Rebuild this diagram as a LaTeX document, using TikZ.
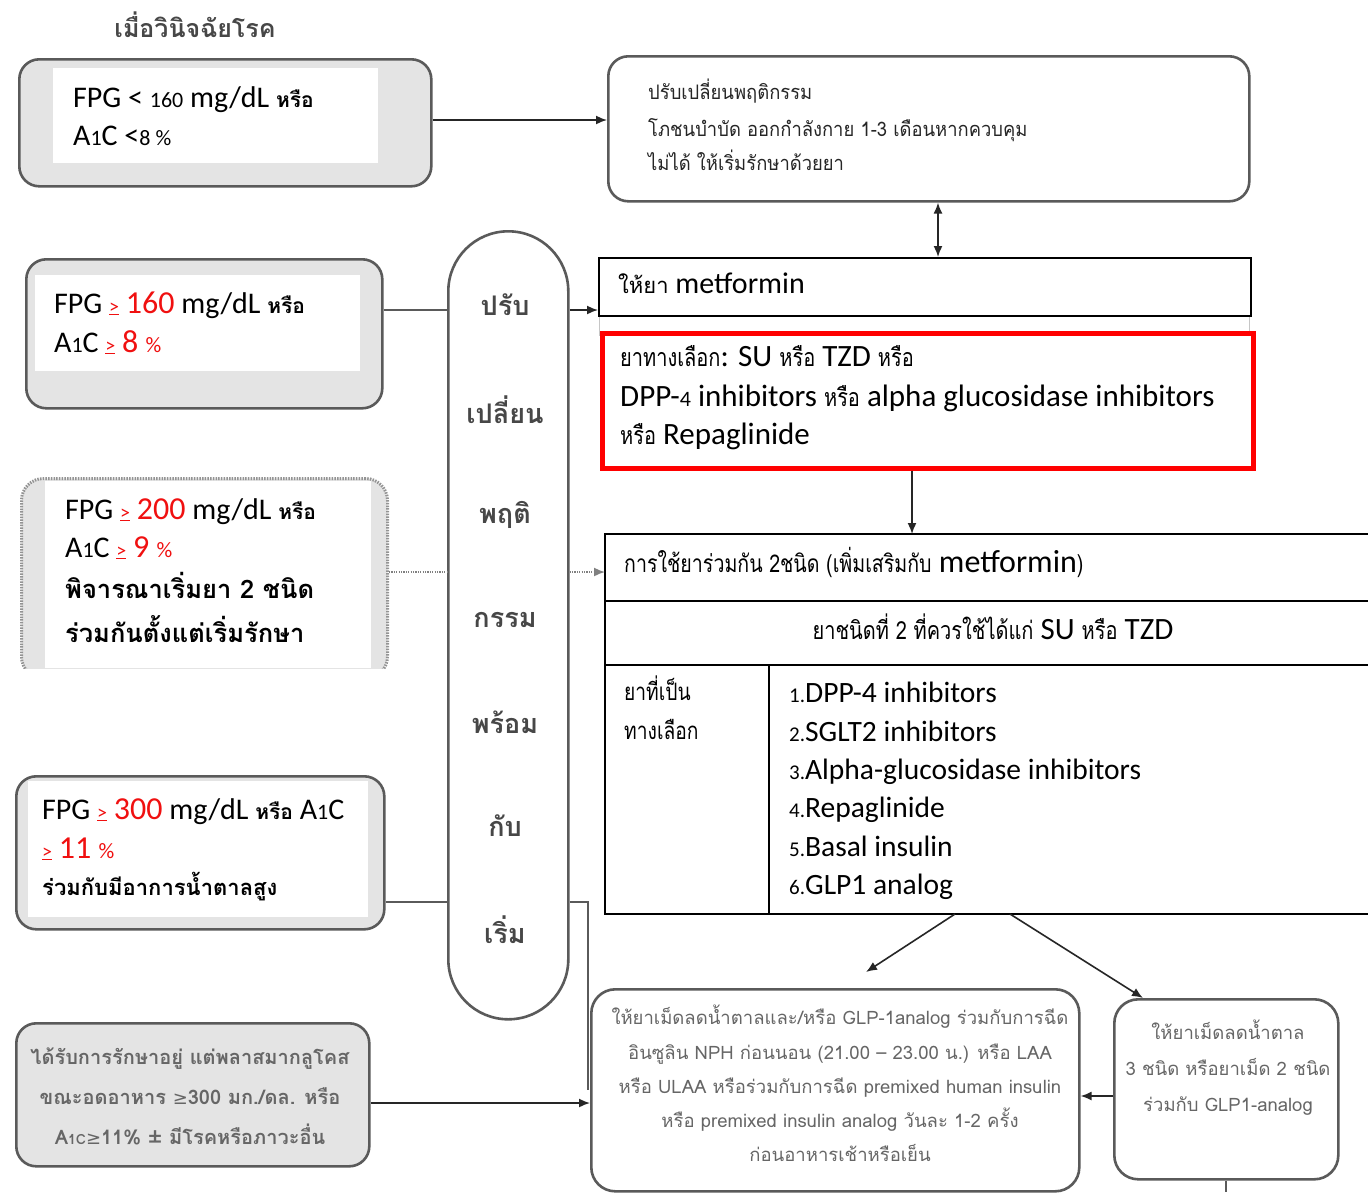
\documentclass[tikz,border=0pt]{standalone}
\usepackage{fontspec}
\setmainfont{Carlito}
\newfontfamily\thai[Script=Thai]{Loma}
\newfontfamily\thaic[Script=Thai,FakeStretch=0.8]{Loma}
\newfontfamily\thain[Script=Thai,FakeStretch=0.92]{Loma}
\newfontfamily\dejavu{DejaVu Sans}
\usetikzlibrary{arrows.meta}
\definecolor{boxline}{HTML}{5A5A5A}
\definecolor{boxfill}{HTML}{E4E4E4}
\definecolor{myred}{HTML}{F01010}
\definecolor{dimtext}{HTML}{666666}
\newcommand\fs[1]{\fontsize{#1}{#1}\selectfont}
\newcommand\geu{\textcolor{myred}{\underline{\fs{20}>}}}
\newcommand\thr{{\thai\bfseries\fs{21}หรือ}}
\begin{document}
\begin{tikzpicture}[x=1pt,y=-1pt,
  lbl/.style={inner sep=0pt, anchor=base west},
  gbox/.style={draw=boxline, line width=2.6pt, rounded corners=20pt, fill=boxfill, anchor=north west, inner sep=0pt},
  wbox/.style={draw=boxline, line width=2.6pt, rounded corners=20pt, fill=white, anchor=north west, inner sep=0pt},
  wrect/.style={fill=white, draw=none, anchor=north west, inner sep=0pt},
  arr/.style={-{Latex[length=11pt,width=9pt]}, line width=1.6pt, draw=black!85},
  conn/.style={line width=2.2pt, draw=boxline},
  dotconn/.style={line width=1.6pt, draw=gray, dash pattern=on 1.2pt off 1.2pt},
  tline/.style={line width=2pt, draw=black},
  capw/.style={font=\thai\bfseries\fs{27}, text=black!72, inner sep=0pt},
  bmtext/.style={inner sep=0pt, anchor=base, font=\thai\fs{18.5}, text=dimtext},
  b5text/.style={inner sep=0pt, anchor=base, font=\thai\bfseries\fs{20}, text=dimtext},
]
\useasboundingbox[fill=white] (0,0) rectangle (1368,1192);

% title
\node[font=\thai\bfseries\fs{25}, text=black!72, inner sep=0pt] (title) at (195,25) {เมื่อวินิจฉัยโรค};

% box 1
\node[gbox, minimum width=412pt, minimum height=127pt] (b1) at (18,58) {};
\node[wrect, minimum width=325pt, minimum height=95pt] (b1w) at (53,68) {};
\node[lbl, font=\fs{30}] (b1t1) at (73,107) {FPG < {\fs{22}160} mg/dL \thr};
\node[lbl, font=\fs{30}] (b1t2) at (73,145) {A{\fs{22}1}C <{\fs{22}8 \%}};

% top right box
\node[wbox, minimum width=641pt, minimum height=145pt] (top) at (607,55) {};
\node[lbl, font=\thain\fs{20}, text=black!85] (topt1) at (648,99) {ปรับเปลี่ยนพฤติกรรม};
\node[lbl, font=\thain\fs{20}, text=black!85] (topt2) at (648,136) {โภชนบำบัด ออกกำลังกาย 1-3 เดือนหากควบคุม};
\node[lbl, font=\thain\fs{20}, text=black!85] (topt3) at (648,170) {ไม่ได้ ให้เริ่มรักษาด้วยยา};

% faint frame behind metformin / red box
\node[draw=gray!45, line width=1.2pt, anchor=north west, inner sep=0pt, minimum width=650pt, minimum height=40pt] (shade) at (599,295) {};

% metformin box
\node[draw=black, line width=2pt, fill=white, anchor=north west, inner sep=0pt, minimum width=652pt, minimum height=58pt] (met) at (598,257) {};
\node[lbl, font=\fs{30}] (mett) at (618,293) {{\thai\fs{22}ให้ยา} metformin};

% red box
\node[draw=red, line width=4.5pt, fill=white, anchor=north west, inner sep=0pt, minimum width=651pt, minimum height=135pt] (red) at (600,331) {};
\node[lbl, font=\fs{31}] (redt1) at (620,366) {{\thaic\fs{25}ยาทางเลือก}: SU {\thaic\fs{25}หรือ} TZD {\thaic\fs{25}หรือ}};
\node[lbl, font=\fs{31}] (redt2) at (620,406) {DPP-{\fs{22}4} inhibitors {\thaic\fs{25}หรือ} alpha glucosidase inhibitors};
\node[lbl, font=\fs{31}] (redt3) at (620,444) {{\thaic\fs{25}หรือ} Repaglinide};

% table
\node[anchor=north west, inner sep=0pt, minimum width=763pt, minimum height=380pt] (tbl) at (605,534) {};
\draw[tline] (tbl.north east) -- (tbl.north west) -- (tbl.south west) -- (tbl.south east);
\coordinate (r1) at (605,601);
\coordinate (r2) at (605,665);
\coordinate (cv) at (769,665);
\draw[tline] (r1) -- (r1 -| tbl.east);
\draw[tline] (r2) -- (r2 -| tbl.east);
\draw[tline] (cv) -- (cv |- tbl.south);
\node[lbl, font=\fs{32}] (tr1) at (624,572) {{\thaic\fs{24.5}การใช้ยาร่วมกัน 2ชนิด (เพิ่มเสริมกับ} metformin{\thaic\fs{24.5})}};
\node[inner sep=0pt, anchor=base, font=\fs{31}] (tr2) at (993,639) {{\thaic\fs{25}ยาชนิดที่ 2 ที่ควรใช้ได้แก่} SU {\thaic\fs{25}หรือ} TZD};
\node[lbl, font=\thaic\fs{24}] (tl1) at (624,700) {ยาที่เป็น};
\node[lbl, font=\thaic\fs{24}] (tl2) at (624,739) {ทางเลือก};
\node[lbl, font=\fs{29.5}] (li1) at (789,702) {{\fs{21}1.}DPP-4 inhibitors};
\node[lbl, font=\fs{29.5}] (li2) at (789,741) {{\fs{21}2.}SGLT2 inhibitors};
\node[lbl, font=\fs{29.5}] (li3) at (789,779) {{\fs{21}3.}Alpha-glucosidase inhibitors};
\node[lbl, font=\fs{29.5}] (li4) at (789,817) {{\fs{21}4.}Repaglinide};
\node[lbl, font=\fs{29.5}] (li5) at (789,856) {{\fs{21}5.}Basal insulin};
\node[lbl, font=\fs{29.5}] (li6) at (789,894) {{\fs{21}6.}GLP1 analog};

% capsule
\node[draw=boxline, line width=2.6pt, fill=white, rounded corners=60pt, anchor=north west, inner sep=0pt, minimum width=120pt, minimum height=788pt] (cap) at (447,230) {};
\node[capw] (c1) at (505,305) {ปรับ};
\node[capw] (c2) at (505,410) {เปลี่ยน};
\node[capw] (c3) at (505,515) {พฤติ};
\node[capw] (c4) at (505,620) {กรรม};
\node[capw] (c5) at (505,722) {พร้อม};
\node[capw] (c6) at (505,826) {กับ};
\node[capw] (c7) at (505,930) {เริ่ม};

% box 2
\node[gbox, minimum width=356pt, minimum height=149pt] (b2) at (25,258) {};
\node[wrect, minimum width=325pt, minimum height=96pt] (b2w) at (35,275) {};
\node[lbl, font=\fs{30}] (b2t1) at (54,313) {FPG \geu\ \textcolor{myred}{\fs{32}160} mg/dL \thr};
\node[lbl, font=\fs{30}] (b2t2) at (54,352) {A{\fs{22}1}C \geu\ \textcolor{myred}{\fs{32}8 {\fs{22}\%}}};

% box 3 (dotted)
\begin{scope}
\clip (0,470) rectangle (400,668);
\node[draw=gray!85, fill=boxfill, line width=3pt, dash pattern=on 1.5pt off 1.2pt, rounded corners=22pt, anchor=north west, inner sep=0pt, minimum width=366pt, minimum height=200pt] (b3) at (20,477) {};
\end{scope}
\node[wrect, minimum width=326pt, minimum height=187pt] (b3w) at (45,481) {};
\node[lbl, font=\fs{30}] (b3t1) at (65,519) {FPG \geu\ \textcolor{myred}{\fs{32}200} mg/dL \thr};
\node[lbl, font=\fs{30}] (b3t2) at (65,557) {A{\fs{22}1}C \geu\ \textcolor{myred}{\fs{32}9 {\fs{22}\%}}};
\node[lbl, font=\thai\bfseries\fs{25.5}] (b3t3) at (65,598) {พิจารณาเริ่มยา 2 ชนิด};
\node[lbl, font=\thai\bfseries\fs{25.5}] (b3t4) at (65,642) {ร่วมกันตั้งแต่เริ่มรักษา};

% box 4
\node[gbox, minimum width=368pt, minimum height=153pt] (b4) at (15,775) {};
\node[wrect, minimum width=340pt, minimum height=136pt] (b4w) at (28,781) {};
\node[lbl, font=\fs{30}] (b4t1) at (42,819) {FPG \geu\ \textcolor{myred}{\fs{32}300} mg/dL \thr\ A{\fs{22}1}C};
\node[lbl, font=\fs{30}] (b4t2) at (42,858) {\geu\ \textcolor{myred}{\fs{32}11 {\fs{22}\%}}};
\node[lbl, font=\thai\bfseries\fs{22}] (b4t3) at (42,895) {ร่วมกับมีอาการน้ำตาลสูง};

% box 5
\node[gbox, minimum width=353pt, minimum height=143pt] (b5) at (15,1022) {};
\node[b5text] (b5t1) at (190,1064) {ได้รับการรักษาอยู่ แต่พลาสมากลูโคส};
\node[b5text] (b5t2) at (190,1104) {ขณะอดอาหาร {\dejavu\mdseries\fs{18}≥}300 มก./ดล. หรือ};
\node[b5text] (b5t3) at (190,1144) {A{\fs{14}1C}{\dejavu\mdseries\fs{18}≥}11\% ± มีโรคหรือภาวะอื่น};

% bottom middle box
\node[wbox, minimum width=488pt, minimum height=202pt, rounded corners=24pt] (bm) at (590,988) {};
\node[bmtext] (bmt1) at (840,1024) {ให้ยาเม็ดลดน้ำตาลและ/หรือ GLP-1analog ร่วมกับการฉีด};
\node[bmtext] (bmt2) at (840,1059) {อินซูลิน NPH ก่อนนอน (21.00 – 23.00 น.) หรือ LAA};
\node[bmtext] (bmt3) at (840,1093) {หรือ ULAA หรือร่วมกับการฉีด  premixed human insulin};
\node[bmtext] (bmt4) at (840,1127) {หรือ  premixed insulin analog วันละ 1-2 ครั้ง};
\node[bmtext] (bmt5) at (840,1161) {ก่อนอาหารเช้าหรือเย็น};

% bottom right box
\node[wbox, minimum width=224pt, minimum height=180pt, rounded corners=24pt] (br) at (1113,998) {};
\node[bmtext] (brt1) at (1228,1039) {ให้ยาเม็ดลดน้ำตาล};
\node[bmtext] (brt2) at (1228,1075) {3 ชนิด หรือยาเม็ด 2 ชนิด};
\node[bmtext] (brt3) at (1228,1111) {ร่วมกับ GLP1-analog};

% ---------- connectors ----------
\draw[arr] (b1.east |- 0,120) -- (top.west |- 0,120);
\coordinate (dv) at (938,0);
\draw[arr, {Latex[length=11pt,width=9pt]}-{Latex[length=11pt,width=9pt]}] (top.south -| dv) -- (met.north -| dv);
\coordinate (y2) at (0,310);
\draw[conn] (b2.east |- y2) -- (cap.west |- y2);
\draw[arr] (cap.east |- y2) -- (met.west |- y2);
\coordinate (y3) at (0,572);
\draw[dotconn] (b3.east |- y3) -- (cap.west |- y3);
\draw[dotconn, -{Latex[length=11pt,width=9pt]}] (cap.east |- y3) -- (tbl.west |- y3);
\coordinate (dv2) at (912,0);
\draw[arr] (red.south -| dv2) -- (tbl.north -| dv2);
\coordinate (y4) at (0,902);
\coordinate (xv) at (588,0);
\draw[conn] (b4.east |- y4) -- (cap.west |- y4);
\draw[conn] (cap.east |- y4) -- (xv |- y4) -- (xv |- bm.west);
\coordinate (y5) at (0,1103);
\draw[arr] (b5.east |- y5) -- (bm.west |- y5);
\coordinate (a1s) at (955,914);
\coordinate (a1e) at (866,972);
\draw[arr] (a1s) -- (a1e);
\coordinate (a2s) at (1010,914);
\coordinate (a2x) at (1143,0);
\draw[arr] (a2s) -- (br.north -| a2x);
\coordinate (y6) at (0,1096);
\draw[arr] (br.west |- y6) -- (bm.east |- y6);
\coordinate (y7) at (0,1192);
\draw[conn] (br.south) -- (br.south |- y7);
\end{tikzpicture}
\end{document}
